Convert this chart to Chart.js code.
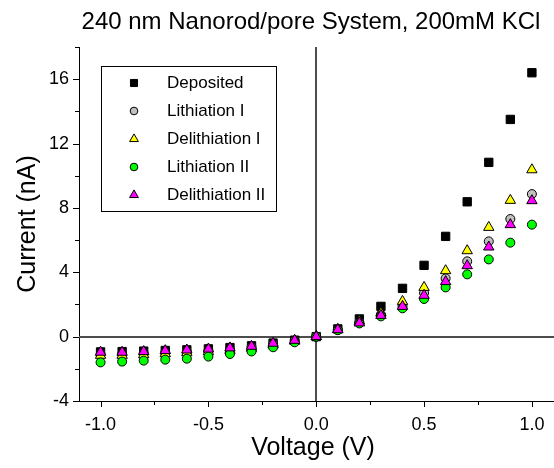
<!DOCTYPE html>
<html>
<head>
<meta charset="utf-8">
<script src="https://cdn.jsdelivr.net/npm/chart.js@4/dist/chart.umd.min.js"></script>
<style>
html,body{margin:0;padding:0;background:#fff;}
canvas{display:block;}
</style>
</head>
<body>
<canvas id="c" width="554" height="468"></canvas>
<script>
const voltage = [-1.0,-0.9,-0.8,-0.7,-0.6,-0.5,-0.4,-0.3,-0.2,-0.1,0,0.1,0.2,0.3,0.4,0.5,0.6,0.7,0.8,0.9,1.0];
const deposited = [-0.95,-0.93,-0.9,-0.86,-0.82,-0.76,-0.68,-0.57,-0.4,-0.22,0,0.48,1.1,1.88,3.0,4.43,6.23,8.38,10.83,13.5,16.4];
const lithiationI = [-1.1,-1.08,-1.04,-0.99,-0.94,-0.87,-0.78,-0.65,-0.45,-0.25,0,0.43,0.88,1.37,1.93,2.71,3.62,4.68,5.92,7.31,8.86];
const delithiationI = [-1.16,-1.16,-1.12,-1.06,-1.0,-0.93,-0.85,-0.72,-0.5,-0.28,0,0.45,0.95,1.47,2.19,3.06,4.1,5.34,6.79,8.47,10.37];
const lithiationII = [-1.6,-1.55,-1.49,-1.43,-1.37,-1.24,-1.08,-0.92,-0.66,-0.35,0,0.4,0.82,1.26,1.76,2.34,3.06,3.87,4.8,5.84,6.96];
const delithiationII = [-0.97,-0.97,-0.93,-0.87,-0.83,-0.77,-0.70,-0.60,-0.41,-0.23,0,0.43,0.85,1.32,1.88,2.57,3.42,4.41,5.57,6.96,8.45];

const seriesLabels = ['Deposited','Lithiation I','Delithiation I','Lithiation II','Delithiation II'];
const xTickValues = [-1.0,-0.75,-0.5,-0.25,0,0.25,0.5,0.75,1.0];
const xMajorTicks = [-1.0,-0.5,0,0.5,1.0];
const yTickValues = [-4,-2,0,2,4,6,8,10,12,14,16,18];
const yMajorTicks = [-4,0,4,8,12,16];
const titleText = '240 nm Nanorod/pore System, 200mM KCl';

const FONT = "'Liberation Sans', Arial, sans-serif";

function pts(arr){ return voltage.map((v,i)=>({x:v,y:arr[i]})); }

const styles = [
  {pointStyle:'rect', bg:'#000000', r:5.9},
  {pointStyle:'circle', bg:'#c0c0c0', r:4.5},
  {pointStyle:'triangle', bg:'#ffff00', r:6},
  {pointStyle:'circle', bg:'#00ff00', r:4.5},
  {pointStyle:'triangle', bg:'#ff00ff', r:6}
];
const seriesData = [deposited, lithiationI, delithiationI, lithiationII, delithiationII];

const datasets = seriesData.map((d,i)=>({
  label: seriesLabels[i],
  data: pts(d),
  showLine: false,
  pointStyle: styles[i].pointStyle,
  pointRadius: styles[i].r,
  pointHoverRadius: styles[i].r,
  pointBackgroundColor: styles[i].bg,
  pointBorderColor: '#000000',
  pointBorderWidth: 1,
  order: seriesData.length - i
}));

const isMajor = (v, list) => list.some(m => Math.abs(m - v) < 1e-9);

const decor = {
  id: 'decor',
  beforeDatasetsDraw(chart){
    const {ctx, chartArea:a, scales:{x,y}} = chart;
    ctx.save();
    ctx.strokeStyle = '#4d4d4d';
    ctx.lineWidth = 2;
    const x0 = Math.round(x.getPixelForValue(0));
    const y0 = Math.round(y.getPixelForValue(0));
    ctx.beginPath();
    ctx.moveTo(x0, a.top); ctx.lineTo(x0, a.bottom);
    ctx.moveTo(a.left, y0); ctx.lineTo(chart.width, y0);
    ctx.stroke();
    ctx.strokeStyle = '#000';
    ctx.lineWidth = 1;
    ctx.beginPath();
    xTickValues.forEach(v=>{
      const px = Math.round(x.getPixelForValue(v)) + 0.5;
      const len = isMajor(v, xMajorTicks) ? 6 : 4;
      ctx.moveTo(px, a.bottom); ctx.lineTo(px, a.bottom + len);
    });
    yTickValues.forEach(v=>{
      const py = Math.round(y.getPixelForValue(v)) + 0.5;
      const len = isMajor(v, yMajorTicks) ? 6 : 4;
      ctx.moveTo(a.left, py); ctx.lineTo(a.left - len, py);
    });
    // extend bottom axis line to the canvas edge
    ctx.moveTo(a.right, Math.round(a.bottom) + 0.5); ctx.lineTo(chart.width, Math.round(a.bottom) + 0.5);
    ctx.stroke();
    ctx.restore();
  },
  afterDatasetsDraw(chart){
    const {ctx} = chart;
    ctx.save();
    const bx = 101.5, by = 66.5, bw = 175, bh = 145;
    ctx.fillStyle = '#fff';
    ctx.fillRect(bx, by, bw, bh);
    ctx.strokeStyle = '#000';
    ctx.lineWidth = 1;
    ctx.strokeRect(bx, by, bw, bh);
    ctx.font = '17px ' + FONT;
    ctx.textBaseline = 'middle';
    ctx.textAlign = 'left';
    chart.data.datasets.forEach((ds,i)=>{
      const yy = 83 + i*28;
      ctx.fillStyle = ds.pointBackgroundColor;
      ctx.strokeStyle = '#000';
      ctx.lineWidth = 1;
      Chart.helpers.drawPoint(ctx, {pointStyle: ds.pointStyle, radius: ds.pointRadius*0.85, rotation:0, borderWidth:1}, 134, yy);
      ctx.fillStyle = '#000';
      ctx.fillText(ds.label, 167, yy);
    });
    ctx.restore();
  },
  afterDraw(chart){
    const {ctx} = chart;
    ctx.save();
    ctx.font = '24px ' + FONT;
    ctx.fillStyle = '#000';
    ctx.textAlign = 'center';
    ctx.textBaseline = 'middle';
    ctx.fillText(titleText, 311, 22);
    ctx.restore();
  }
};

new Chart(document.getElementById('c'), {
  type: 'scatter',
  data: { datasets },
  plugins: [decor],
  options: {
    responsive: false,
    devicePixelRatio: 1,
    animation: false,
    layout: { padding: { top: 47, right: 0, left: 0, bottom: 0 } },
    plugins: { legend: { display: false }, tooltip: { enabled: false }, title: { display: false } },
    scales: {
      x: {
        type: 'linear',
        min: -1.1, max: 1.07,
        afterBuildTicks(s){ s.ticks = xTickValues.map(v=>({value:v})); },
        afterFit(s){ s.height = 67; s.paddingLeft = 0; s.paddingRight = 0; },
        grid: { display: false, drawTicks: false },
        border: { display: true, color: '#000', width: 1 },
        ticks: {
          autoSkip: false, maxRotation: 0, padding: 13,
          color: '#000', font: { family: FONT, size: 18 },
          callback(v){ return isMajor(v, xMajorTicks) ? v.toFixed(1) : ''; }
        },
        title: { display: true, text: 'Voltage (V)', color: '#000', font: { family: FONT, size: 25 }, padding: { top: 0, bottom: 5 } }
      },
      y: {
        type: 'linear',
        min: -4, max: 18,
        afterBuildTicks(s){ s.ticks = yTickValues.map(v=>({value:v})); },
        afterFit(s){ s.width = 79; s.paddingTop = 0; s.paddingBottom = 0; },
        grid: { display: false, drawTicks: false },
        border: { display: true, color: '#000', width: 1 },
        ticks: {
          autoSkip: false, padding: 10,
          color: '#000', font: { family: FONT, size: 18 },
          callback(v){ return isMajor(v, yMajorTicks) ? String(v) : ''; }
        },
        title: { display: true, text: 'Current (nA)', color: '#000', font: { family: FONT, size: 25 }, padding: { top: 13, bottom: 0 } }
      }
    }
  }
});
</script>
</body>
</html>
